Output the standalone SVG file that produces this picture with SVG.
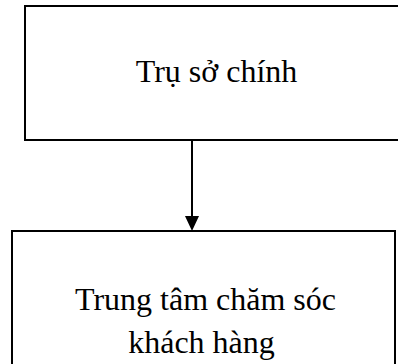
<svg xmlns="http://www.w3.org/2000/svg" width="398" height="364" viewBox="0 0 398 364">
<style>
.box{fill:#fff;stroke:#000;stroke-width:2}
.lbl{font-family:"Liberation Serif","Times New Roman",serif;font-size:32px;fill:#000;text-anchor:middle}
.conn{stroke:#000;stroke-width:2;fill:none}
</style>
<rect width="398" height="364" fill="#fff"/>
<g id="node-tru-so">
<rect class="box" x="25" y="6" width="400" height="134"/>
<text class="lbl" x="216.5" y="82">Trụ sở chính</text>
</g>
<g id="node-trung-tam">
<rect class="box" x="12" y="231" width="383" height="150"/>
<text class="lbl" x="205.5" y="310">Trung tâm chăm sóc</text>
<text class="lbl" x="201.5" y="353">khách hàng</text>
</g>
<g id="connectors">
<line class="conn" x1="192" y1="141" x2="192" y2="217"/>
<polygon points="185,216 199,216 192,231" fill="#000"/>
</g>
</svg>
